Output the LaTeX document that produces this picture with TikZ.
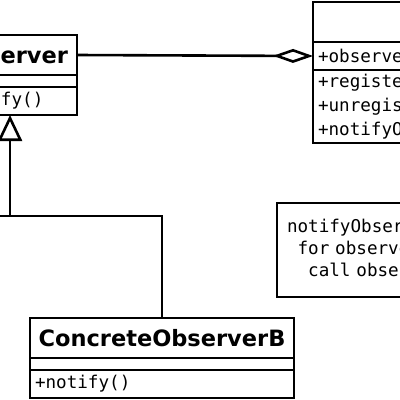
\documentclass[tikz,border=0pt]{standalone}
\usepackage{fontspec}
\setmainfont{DejaVu Sans}
\newfontfamily\umlmono{DejaVu Sans Mono}
\usetikzlibrary{positioning, arrows.meta}
\usepackage{xcolor}
\definecolor{umlink}{RGB}{0,0,0}

\begin{document}
\begin{tikzpicture}[x=1pt, y=-1pt, line width=2.6pt, draw=umlink,
    classtitle/.style={rectangle, draw=umlink, fill=white, anchor=north west,
                       minimum height=40pt, inner xsep=0pt, inner ysep=0pt, outer sep=0pt,
                       font=\fontsize{22.5}{27}\selectfont\bfseries},
    classpart/.style={rectangle, draw=umlink, fill=white, anchor=north west,
                      inner xsep=5pt, inner ysep=0pt, outer sep=0pt, align=left,
                      font=\fontsize{17.6}{24}\selectfont\umlmono},
    notebox/.style={rectangle, draw=umlink, fill=white, anchor=north west,
                    inner xsep=10pt, inner ysep=0pt, outer sep=0pt, align=left,
                    minimum height=94pt, text width=340pt,
                    font=\fontsize{17.6}{22}\selectfont\umlmono},
    aggr/.style={-{Diamond[open, length=40pt, width=14pt]}},
    inherit/.style={-{Triangle[open, length=26pt, width=24pt]}},
]
\useasboundingbox (0,0) rectangle (400,400);
\clip (0,0) rectangle (400,400);

% --- Observer (cut at the left) ---
\node[classtitle, minimum width=134pt] (obsT) at (-57,35) {Observer};
\node[classpart, text width=124pt, minimum height=12pt] (obsA) at (obsT.south west) {};
\node[classpart, text width=124pt, minimum height=28pt] (obsM) at (obsA.south west) {+notify()};

% --- Subject (cut at the right) ---
\node[classtitle, minimum width=300pt] (subT) at (313,2) {Subject};
\node[classpart, text width=290pt, minimum height=28pt] (subA) at (subT.south west) {+observers};
\node[classpart, text width=290pt, minimum height=73pt] (subM) at (subA.south west)
  {+registerObserver()\\+unregisterObserver()\\+notifyObservers()};

% --- ConcreteObserverB ---
\node[classtitle, minimum width=264pt] (cobT) at (30,318) {ConcreteObserverB};
\node[classpart, text width=254pt, minimum height=12pt] (cobA) at (cobT.south west) {};
\node[classpart, text width=254pt, minimum height=28pt] (cobM) at (cobA.south west) {+notify()};

% --- note ---
\node[notebox] (note) at (277,203)
  {notifyObservers()\\
   \phantom{n}for observer in observers\\
   \phantom{nn}call observer.notify()};

% --- connectors ---
\draw[aggr] (obsT.east) -- (subA.west);

\coordinate (bar) at (0,216);
\coordinate (joint) at (obsM.south |- bar);
\coordinate (offleft) at (-80,216);
\draw (cobT.north) |- (offleft);
\draw[inherit] (joint) -- (obsM.south);

\end{tikzpicture}
\end{document}
